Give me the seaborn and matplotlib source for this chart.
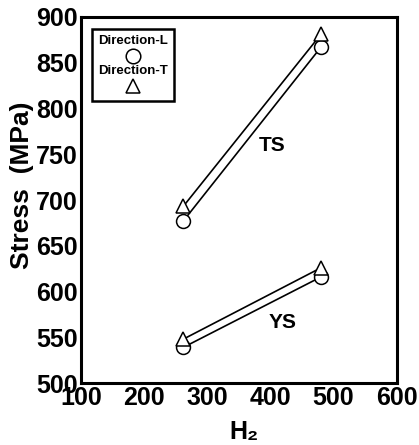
import matplotlib
matplotlib.use("Agg")
import matplotlib.pyplot as plt
import seaborn as sns
import pandas as pd
from matplotlib.offsetbox import TextArea, DrawingArea, VPacker, AnchoredOffsetbox
from matplotlib.lines import Line2D

# ---- data ----
h2 = [262, 480]
ts_L = [677, 867]
ts_T = [693, 881]
ys_L = [539, 616]
ys_T = [548, 626]
xticks = [100, 200, 300, 400, 500, 600]
yticks = [500, 550, 600, 650, 700, 750, 800, 850, 900]

rows = []
for prop, d in [("TS", {"L": ts_L, "T": ts_T}), ("YS", {"L": ys_L, "T": ys_T})]:
    for direction, vals in d.items():
        for x, y in zip(h2, vals):
            rows.append({"H2": x, "Stress": y, "Direction": direction, "Property": prop})
df = pd.DataFrame(rows)

sns.set_theme(style="white")
plt.rcParams['font.family'] = ['Liberation Sans', 'DejaVu Sans']
plt.rcParams['font.weight'] = 'bold'
for k in ["text.color", "axes.labelcolor", "xtick.color", "ytick.color", "axes.edgecolor"]:
    plt.rcParams[k] = "black"

fig = plt.figure(figsize=(4.19, 4.45), dpi=100)
ax = fig.add_axes([0.193, 0.139, 0.754, 0.823])

sns.lineplot(data=df, x="H2", y="Stress", hue="Direction", style="Direction",
             units="Property", estimator=None,
             palette={"L": "black", "T": "black"},
             markers={"L": "o", "T": "^"}, dashes=False,
             markersize=10, markerfacecolor="white", markeredgecolor="black",
             markeredgewidth=1.1, linewidth=1.2, legend=False, ax=ax)

ax.set_xlim(100, 600)
ax.set_ylim(500, 900)
ax.set_xticks(xticks)
ax.set_yticks(yticks)
ax.tick_params(direction="in", length=5, width=1.5, labelsize=18, pad=2)
for lab in ax.get_xticklabels() + ax.get_yticklabels():
    lab.set_fontweight("bold")
for s in ax.spines.values():
    s.set_linewidth(2.2)
    s.set_color("black")

ax.set_xlabel("H₂", fontsize=18, fontweight="bold")
ax.xaxis.set_label_coords(0.516, -0.10)
ax.set_ylabel("Stress  (MPa)", fontsize=19, fontweight="bold")
ax.yaxis.set_label_coords(-0.147, 0.54)

ax.text(402, 760, "TS", fontsize=15, fontweight="bold", ha="center", va="center")
ax.text(420, 566, "YS", fontsize=15, fontweight="bold", ha="center", va="center")

# legend: text above marker
def marker_area(m):
    da = DrawingArea(20, 13, 0, 0)
    da.add_artist(Line2D([10], [6.5], marker=m, markersize=10.5, mfc="white",
                         mec="black", mew=1.1, linestyle="none"))
    return da

items = [TextArea("Direction-L", textprops=dict(fontsize=9.5, fontweight="bold")),
         marker_area("o"),
         TextArea("Direction-T", textprops=dict(fontsize=9.5, fontweight="bold")),
         marker_area("^")]
pack = VPacker(children=items, align="center", pad=0, sep=0)
anch = AnchoredOffsetbox(loc="upper left", child=pack, pad=0.45, frameon=True,
                         bbox_to_anchor=(0.035, 0.968), bbox_transform=ax.transAxes,
                         borderpad=0, prop=dict(size=10))
anch.patch.set_linewidth(1.8)
anch.patch.set_edgecolor("black")
ax.add_artist(anch)

fig.savefig("out.png", dpi=100)
